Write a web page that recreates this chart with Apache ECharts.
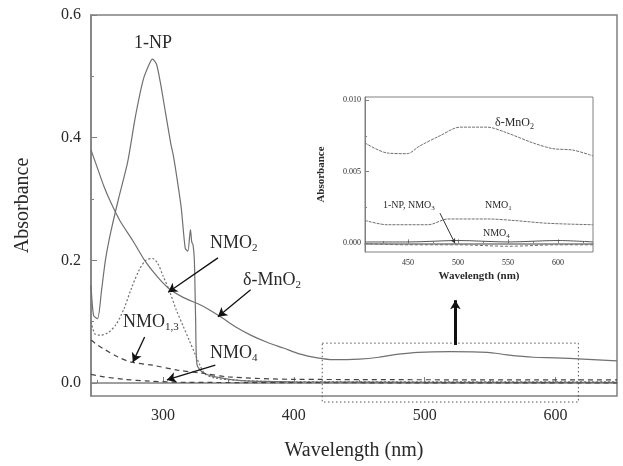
<!DOCTYPE html>
<html>
<head>
<meta charset="utf-8">
<script src="https://cdn.jsdelivr.net/npm/echarts@6/dist/echarts.min.js"></script>
<style>
  html, body { margin: 0; padding: 0; background: #fff; }
  #chart { width: 623px; height: 466px; }
</style>
</head>
<body>
<div id="chart"></div>
<script>
// main plot spectra (wavelength nm / absorbance)
var npWl   = [245, 247, 250, 253, 256, 260, 266, 273, 279, 285, 290, 292, 295, 298, 302, 306, 308, 311, 314, 317, 319, 321, 322, 323, 324, 325, 326, 330, 340, 360, 400, 500, 647];
var npAbs  = [0.16, 0.11, 0.105, 0.15, 0.2, 0.245, 0.3, 0.36, 0.435, 0.495, 0.522, 0.528, 0.52, 0.49, 0.44, 0.39, 0.37, 0.33, 0.285, 0.22, 0.215, 0.25, 0.23, 0.225, 0.2, 0.1, 0.03, 0.018, 0.01, 0.004, 0.002, 0.001, 0.001];

var nmo2Wl  = [245, 248, 252, 258, 264, 270, 276, 282, 287, 292, 296, 300, 305, 310, 315, 320, 325, 328, 332, 340, 360, 400, 647];
var nmo2Abs = [0.10, 0.08, 0.078, 0.082, 0.095, 0.12, 0.155, 0.185, 0.2, 0.203, 0.195, 0.175, 0.15, 0.12, 0.095, 0.07, 0.045, 0.03, 0.015, 0.008, 0.004, 0.002, 0.002];

var mnWl  = [245, 250, 255, 260, 267, 277, 286, 295, 304, 315, 328, 335, 344, 355, 367, 380, 392, 405, 418, 430, 450, 465, 480, 495, 520, 548, 563, 583, 600, 621, 647];
var mnAbs = [0.38, 0.35, 0.32, 0.295, 0.265, 0.232, 0.2, 0.175, 0.155, 0.14, 0.128, 0.12, 0.108, 0.092, 0.078, 0.066, 0.057, 0.047, 0.041, 0.038, 0.039, 0.042, 0.047, 0.05, 0.051, 0.05, 0.046, 0.042, 0.041, 0.039, 0.036];

var nmo13Wl  = [245, 250, 256, 266, 276, 292, 311, 330, 350, 400, 647];
var nmo13Abs = [0.07, 0.062, 0.054, 0.042, 0.034, 0.029, 0.021, 0.016, 0.01, 0.006, 0.005];

var nmo4Wl  = [245, 255, 270, 290, 320, 647];
var nmo4Abs = [0.014, 0.01, 0.006, 0.003, 0.001, 0.0];

// inset spectra
var inMnWl  = [407, 429, 449, 462, 482, 502, 529, 549, 575, 595, 615, 635];
var inMnAbs = [0.0070, 0.0063, 0.00625, 0.0068, 0.0075, 0.0081, 0.0081, 0.0077, 0.0070, 0.0066, 0.0065, 0.0061];
var inNmo1Wl  = [407, 429, 470, 490, 530, 555, 590, 635];
var inNmo1Abs = [0.0016, 0.0013, 0.0013, 0.0017, 0.0017, 0.0016, 0.0014, 0.0013];
var inNmo4Wl  = [407, 450, 500, 550, 600, 635];
var inNmo4Abs = [0.0001, 0.0001, 0.0002, 0.0001, 0.0002, 0.0001];
var inNpWl  = [407, 450, 500, 550, 600, 635];
var inNpAbs = [0.0, -0.0001, -0.0001, -0.0002, -0.0001, -0.0001];

// tick values
var xMajor = [300, 400, 500, 600];
var xMinor = [250, 350, 450, 550, 650];
var yMajor = [0, 0.2, 0.4, 0.6];
var yMinor = [0.1, 0.3, 0.5];
var inXMajor = [450, 500, 550, 600];
var inXMinor = [425, 475, 525, 575, 625];
var inYMajor = [0, 0.005, 0.01];
var inYMinor = [0.0025, 0.0075];

function zip(xs, ys) {
	var out = [];
	for (var i = 0; i < xs.length; i++) {
		out.push([xs[i], ys[i]]);
	}
	return out;
}

var serif = "Liberation Serif";
var lineCol = "#707070";
var axisCol = "#808080";
var textCol = "#2a2a2a";

function mainX(idx, major) {
	return {
		type: "value", gridIndex: idx.grid, min: idx.min, max: idx.max,
		position: "bottom",
		axisLine: { show: major, lineStyle: { color: axisCol, width: 1.5 } },
		axisTick: { show: true, inside: true, length: major ? idx.tl : idx.tl / 2,
			customValues: major ? idx.major : idx.minor, lineStyle: { color: axisCol } },
		axisLabel: { show: major, customValues: idx.major, color: textCol,
			fontFamily: serif, fontSize: idx.fs, margin: idx.margin,
			formatter: idx.fmt },
		splitLine: { show: false }
	};
}

var chart = echarts.init(document.getElementById("chart"));

var option = {
	animation: false,
	backgroundColor: "#fff",
	grid: [
		{ left: 91, top: 15, right: 6, bottom: 70, show: true, borderColor: axisCol, borderWidth: 1.5 },
		{ left: 365, top: 97, width: 228, height: 155, show: true, borderColor: axisCol, borderWidth: 1 }
	],
	xAxis: [
		Object.assign(mainX({ grid: 0, min: 245, max: 647, major: xMajor, minor: xMinor, tl: 6, fs: 16, margin: 12 }, true),
			{ name: "Wavelength (nm)", nameLocation: "middle", nameGap: 45,
			  nameTextStyle: { fontFamily: serif, fontSize: 20, color: textCol } }),
		mainX({ grid: 0, min: 245, max: 647, major: xMajor, minor: xMinor, tl: 6 }, false),
		Object.assign(mainX({ grid: 1, min: 407, max: 635, major: inXMajor, minor: inXMinor, tl: 4, fs: 8, margin: 7 }, true),
			{ name: "Wavelength (nm)", nameLocation: "middle", nameGap: 19,
			  nameTextStyle: { fontFamily: serif, fontSize: 11, fontWeight: "bold", color: textCol } }),
		mainX({ grid: 1, min: 407, max: 635, major: inXMajor, minor: inXMinor, tl: 4 }, false)
	],
	yAxis: [
		{
			type: "value", gridIndex: 0, min: -0.0212, max: 0.6, position: "left",
			axisLine: { show: true, lineStyle: { color: axisCol, width: 1.5 } },
			axisTick: { show: true, inside: true, length: 6, customValues: yMajor, lineStyle: { color: axisCol } },
			axisLabel: { customValues: yMajor, color: textCol, fontFamily: serif, fontSize: 16, margin: 10,
				formatter: function (v) { return v.toFixed(1); } },
			splitLine: { show: false },
			name: "Absorbance", nameLocation: "middle", nameGap: 58, nameRotate: 90,
			nameTextStyle: { fontFamily: serif, fontSize: 20, color: textCol }
		},
		{
			type: "value", gridIndex: 0, min: -0.0212, max: 0.6, position: "left",
			axisLine: { show: false },
			axisTick: { show: true, inside: true, length: 3, customValues: yMinor, lineStyle: { color: axisCol } },
			axisLabel: { show: false },
			splitLine: { show: false }
		},
		{
			type: "value", gridIndex: 1, min: -0.0006, max: 0.0102, position: "left",
			axisLine: { show: true, lineStyle: { color: axisCol, width: 1 } },
			axisTick: { show: true, inside: true, length: 4, customValues: inYMajor, lineStyle: { color: axisCol } },
			axisLabel: { customValues: inYMajor, color: textCol, fontFamily: serif, fontSize: 8, margin: 4,
				formatter: function (v) { return v.toFixed(3); } },
			splitLine: { show: false },
			name: "Absorbance", nameLocation: "middle", nameGap: 38, nameRotate: 90,
			nameTextStyle: { fontFamily: serif, fontSize: 11, fontWeight: "bold", color: textCol }
		},
		{
			type: "value", gridIndex: 1, min: -0.0006, max: 0.0102, position: "left",
			axisLine: { show: false },
			axisTick: { show: true, inside: true, length: 2, customValues: inYMinor, lineStyle: { color: axisCol } },
			axisLabel: { show: false },
			splitLine: { show: false }
		}
	],
	series: [
		{ name: "1-NP", type: "line", xAxisIndex: 0, yAxisIndex: 0, data: zip(npWl, npAbs),
		  showSymbol: false, smooth: 0.25, lineStyle: { color: lineCol, width: 1.2 } },
		{ name: "NMO2", type: "line", xAxisIndex: 0, yAxisIndex: 0, data: zip(nmo2Wl, nmo2Abs),
		  showSymbol: false, smooth: 0.3, lineStyle: { color: lineCol, width: 1.2, type: [2, 2] } },
		{ name: "d-MnO2", type: "line", xAxisIndex: 0, yAxisIndex: 0, data: zip(mnWl, mnAbs),
		  showSymbol: false, smooth: 0.3, lineStyle: { color: lineCol, width: 1.2 } },
		{ name: "NMO1,3", type: "line", xAxisIndex: 0, yAxisIndex: 0, data: zip(nmo13Wl, nmo13Abs),
		  showSymbol: false, smooth: 0.3, lineStyle: { color: "#444", width: 1.2, type: [5, 4] } },
		{ name: "NMO4", type: "line", xAxisIndex: 0, yAxisIndex: 0, data: zip(nmo4Wl, nmo4Abs),
		  showSymbol: false, smooth: 0.3, lineStyle: { color: "#444", width: 1.2, type: [5, 4] } },
		{ name: "in-MnO2", type: "line", xAxisIndex: 2, yAxisIndex: 2, data: zip(inMnWl, inMnAbs),
		  showSymbol: false, smooth: 0.3, lineStyle: { color: lineCol, width: 1, type: [3, 1] } },
		{ name: "in-NMO1", type: "line", xAxisIndex: 2, yAxisIndex: 2, data: zip(inNmo1Wl, inNmo1Abs),
		  showSymbol: false, smooth: 0.3, lineStyle: { color: lineCol, width: 1, type: [3, 1] } },
		{ name: "in-NMO4", type: "line", xAxisIndex: 2, yAxisIndex: 2, data: zip(inNmo4Wl, inNmo4Abs),
		  showSymbol: false, smooth: 0.3, lineStyle: { color: "#555", width: 1 } },
		{ name: "in-NP", type: "line", xAxisIndex: 2, yAxisIndex: 2, data: zip(inNpWl, inNpAbs),
		  showSymbol: false, smooth: 0.3, lineStyle: { color: lineCol, width: 1, type: [3, 2] } },
		{
			name: "arrows", type: "line", xAxisIndex: 0, yAxisIndex: 0, data: [],
			markLine: {
				silent: true, animation: false,
				symbol: ["none", "arrow"], symbolSize: [8, 9],
				label: { show: false },
				lineStyle: { color: "#111", width: 1.3, type: "solid" },
				data: [
					[{ coord: [342, 0.204] }, { coord: [304, 0.148] }],
					[{ coord: [367, 0.152] }, { coord: [342, 0.108] }],
					[{ coord: [286, 0.075] }, { coord: [277, 0.034] }],
					[{ coord: [340, 0.029] }, { coord: [303, 0.005] }],
					[{ coord: [523.5, 0.062], lineStyle: { width: 3 } }, { coord: [523.5, 0.135] }]
				]
			}
		},
		{
			name: "arrows-inset", type: "line", xAxisIndex: 2, yAxisIndex: 2, data: [],
			markLine: {
				silent: true, animation: false,
				symbol: ["none", "arrow"], symbolSize: [4, 5],
				label: { show: false },
				lineStyle: { color: "#333", width: 1, type: "solid" },
				data: [
					[{ coord: [482, 0.0021] }, { coord: [497, 0.0000] }]
				]
			}
		}
	]
};
chart.setOption(option);

// texts and the dotted box over the zoom region
var boxA = chart.convertToPixel({ xAxisIndex: 0, yAxisIndex: 0 }, [421.7, 0.065]);
var boxB = chart.convertToPixel({ xAxisIndex: 0, yAxisIndex: 0 }, [617.5, -0.031]);
var big = { fontFamily: serif, fontSize: 18, fill: textCol };
var small = { fontFamily: serif, fontSize: 10, fill: textCol };
var subBig = { sub: { fontFamily: serif, fontSize: 11, fill: textCol, verticalAlign: "bottom", padding: [10, 0, 0, 0] } };
var subSmall = { sub: { fontFamily: serif, fontSize: 7, fill: textCol, padding: [6, 0, 0, 0] } };

function label(x, y, text, base, rich) {
	return { type: "text", x: x, y: y, style: Object.assign({ text: text, rich: rich || {}, textVerticalAlign: "middle" }, base) };
}

chart.setOption({
	graphic: [
		{ type: "rect", shape: { x: boxA[0], y: boxA[1], width: boxB[0] - boxA[0], height: boxB[1] - boxA[1] },
		  style: { fill: "none", stroke: "#555", lineWidth: 1, lineDash: [1.5, 2.5] } },
		label(134, 43, "1-NP", big),
		label(210, 243, "NMO{sub|2}", big, subBig),
		label(243, 280, "\u03b4-MnO{sub|2}", big, subBig),
		label(123, 322, "NMO{sub|1,3}", big, subBig),
		label(210, 353, "NMO{sub|4}", big, subBig),
		label(495, 123, "\u03b4-MnO{sub|2}", { fontFamily: serif, fontSize: 12, fill: textCol },
			{ sub: { fontFamily: serif, fontSize: 8, fill: textCol, padding: [7, 0, 0, 0] } }),
		label(383, 205, "1-NP, NMO{sub|3}", small, subSmall),
		label(485, 205, "NMO{sub|1}", small, subSmall),
		label(483, 233, "NMO{sub|4}", small, subSmall)
	]
});
</script>
</body>
</html>
